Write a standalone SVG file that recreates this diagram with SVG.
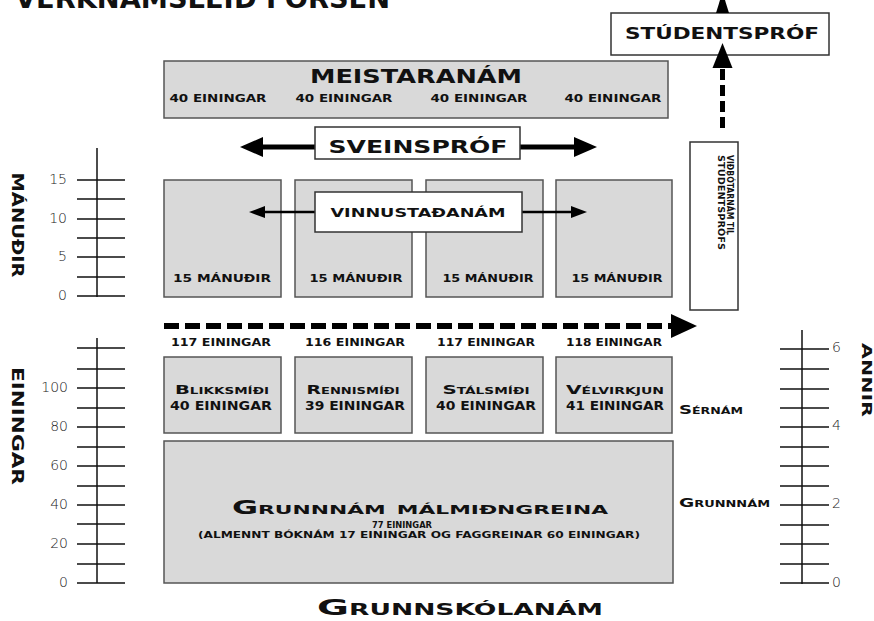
<svg xmlns="http://www.w3.org/2000/svg" width="874" height="621" viewBox="0 0 874 621">
<style>
.b{font-family:"DejaVu Sans","Liberation Sans",sans-serif;font-weight:bold;fill:#111}
.sc{font-variant:small-caps}
.n{font-family:"DejaVu Sans","Liberation Sans",sans-serif;font-weight:200;fill:#222;font-size:14px}
.g{fill:#d9d9d9;stroke:#555;stroke-width:1.5}
.w{fill:#fff;stroke:#333;stroke-width:1.5}
.ax{stroke:#111;stroke-width:1.5;fill:none}
.m{text-anchor:middle}
</style>
<rect width="874" height="621" fill="#fff"/>
<text class="b" x="15" y="8" font-size="26" textLength="375" lengthAdjust="spacingAndGlyphs">VERKNÁMSLEIÐ FORSEN</text>

<g id="studentsprof">
<rect class="w" x="611" y="13" width="218" height="42"/>
<text class="b m" x="722" y="39" font-size="16" textLength="194" lengthAdjust="spacingAndGlyphs">STÚDENTSPRÓF</text>
</g>

<g id="meistaranam">
<rect class="g" x="164" y="61" width="504" height="57"/>
<text class="b m" x="416" y="83" font-size="19" textLength="212" lengthAdjust="spacingAndGlyphs">MEISTARANÁM</text>
<text class="b m" x="218" y="102" font-size="10.5" textLength="97" lengthAdjust="spacingAndGlyphs">40 EININGAR</text>
<text class="b m" x="344" y="102" font-size="10.5" textLength="97" lengthAdjust="spacingAndGlyphs">40 EININGAR</text>
<text class="b m" x="479" y="102" font-size="10.5" textLength="97" lengthAdjust="spacingAndGlyphs">40 EININGAR</text>
<text class="b m" x="613" y="102" font-size="10.5" textLength="97" lengthAdjust="spacingAndGlyphs">40 EININGAR</text>
</g>

<g id="manudir-scale">
<line class="ax" x1="97" y1="148" x2="97" y2="297"/>
<path class="ax" d="M77 180H125M77 199H125M77 219H125M77 238H125M77 257H125M77 277H125M77 296H125"/>
<text class="n" x="67" y="184" text-anchor="end">15</text>
<text class="n" x="67" y="223" text-anchor="end">10</text>
<text class="n" x="67" y="261" text-anchor="end">5</text>
<text class="n" x="67" y="300" text-anchor="end">0</text>
<text class="b m" transform="translate(17,225) rotate(90)" dominant-baseline="central" font-size="15" textLength="105" lengthAdjust="spacingAndGlyphs">MÁNUÐIR</text>
</g>

<g id="manudir-boxes">
<rect class="g" x="164" y="180" width="117" height="117"/>
<rect class="g" x="295" y="180" width="117" height="117"/>
<rect class="g" x="426" y="180" width="117" height="117"/>
<rect class="g" x="556" y="180" width="116" height="117"/>
<text class="b m" x="222" y="282" font-size="11" textLength="98" lengthAdjust="spacingAndGlyphs">15 MÁNUÐIR</text>
<text class="b m" x="356" y="282" font-size="11" textLength="93" lengthAdjust="spacingAndGlyphs">15 MÁNUÐIR</text>
<text class="b m" x="488" y="282" font-size="11" textLength="91" lengthAdjust="spacingAndGlyphs">15 MÁNUÐIR</text>
<text class="b m" x="617" y="282" font-size="11" textLength="91" lengthAdjust="spacingAndGlyphs">15 MÁNUÐIR</text>
</g>

<g id="vidbotarnam">
<rect class="w" x="690" y="142" width="48" height="168"/>
<g transform="translate(736,155) rotate(90)">
<text class="b" x="0" y="9" font-size="9.5" textLength="80" lengthAdjust="spacingAndGlyphs">VIÐBÓTARNÁM TIL</text>
<text class="b" x="0" y="18.5" font-size="9.5" textLength="95" lengthAdjust="spacingAndGlyphs">STÚDENTSPRÓFS</text>
</g>
</g>

<g id="connectors">
<line x1="260" y1="147" x2="580" y2="147" stroke="#000" stroke-width="5"/>
<polygon points="240,147 263,137 263,157" fill="#000"/>
<polygon points="597,147 574,137 574,157" fill="#000"/>
<line x1="262" y1="212" x2="575" y2="212" stroke="#000" stroke-width="2.5"/>
<polygon points="249,212 265,206 265,218" fill="#000"/>
<polygon points="587,212 571,206 571,218" fill="#000"/>
<line x1="164" y1="326" x2="671" y2="326" stroke="#000" stroke-width="6" stroke-dasharray="15 6"/>
<polygon points="697,326 671,314 671,338" fill="#000"/>
<line x1="722.5" y1="128" x2="722.5" y2="66" stroke="#000" stroke-width="5" stroke-dasharray="11 5"/>
<polygon points="722.5,43 712.5,68 732.5,68" fill="#000"/>
<polygon points="722.5,-8 716,13 729,13" fill="#000"/>
</g>

<g id="sveinsprof">
<rect class="w" x="315" y="127" width="205" height="32"/>
<text class="b m" x="418" y="153" font-size="18" textLength="179" lengthAdjust="spacingAndGlyphs">SVEINSPRÓF</text>
</g>

<g id="vinnustadanam">
<rect class="w" x="315" y="192" width="207" height="40"/>
<text class="b m" x="418" y="217" font-size="12.5" textLength="175" lengthAdjust="spacingAndGlyphs">VINNUSTAÐANÁM</text>
</g>

<g id="einingar-totals">
<text class="b m" x="221" y="346" font-size="11" textLength="100" lengthAdjust="spacingAndGlyphs">117 EININGAR</text>
<text class="b m" x="355" y="346" font-size="11" textLength="100" lengthAdjust="spacingAndGlyphs">116 EININGAR</text>
<text class="b m" x="486" y="346" font-size="11" textLength="98" lengthAdjust="spacingAndGlyphs">117 EININGAR</text>
<text class="b m" x="614" y="346" font-size="11" textLength="96" lengthAdjust="spacingAndGlyphs">118 EININGAR</text>
</g>

<g id="blikksmidi">
<rect class="g" x="164" y="357" width="117" height="76"/>
<text class="b sc m" x="222" y="394" font-size="13" textLength="94" lengthAdjust="spacingAndGlyphs">Blikksmíði</text>
<text class="b m" x="221" y="410" font-size="12" textLength="102" lengthAdjust="spacingAndGlyphs">40 EININGAR</text>
</g>
<g id="rennismidi">
<rect class="g" x="295" y="357" width="117" height="76"/>
<text class="b sc m" x="353" y="394" font-size="13" textLength="93" lengthAdjust="spacingAndGlyphs">Rennismíði</text>
<text class="b m" x="355" y="410" font-size="12" textLength="100" lengthAdjust="spacingAndGlyphs">39 EININGAR</text>
</g>
<g id="stalsmidi">
<rect class="g" x="426" y="357" width="117" height="76"/>
<text class="b sc m" x="486" y="394" font-size="13" textLength="87" lengthAdjust="spacingAndGlyphs">Stálsmíði</text>
<text class="b m" x="486" y="410" font-size="12" textLength="100" lengthAdjust="spacingAndGlyphs">40 EININGAR</text>
</g>
<g id="velvirkjun">
<rect class="g" x="556" y="357" width="116" height="76"/>
<text class="b sc m" x="615" y="394" font-size="13" textLength="98" lengthAdjust="spacingAndGlyphs">Vélvirkjun</text>
<text class="b m" x="615" y="410" font-size="12" textLength="98" lengthAdjust="spacingAndGlyphs">41 EININGAR</text>
</g>

<g id="grunnnam">
<rect class="g" x="164" y="441" width="509" height="142"/>
<text class="b sc m" x="420" y="514" font-size="19" textLength="376" lengthAdjust="spacingAndGlyphs">Grunnnám málmiðngreina</text>
<text class="b m" x="402" y="528" font-size="9" textLength="60" lengthAdjust="spacingAndGlyphs">77 EININGAR</text>
<text class="b m" x="419" y="538" font-size="9.5" textLength="442" lengthAdjust="spacingAndGlyphs">(ALMENNT BÓKNÁM 17 EININGAR OG FAGGREINAR 60 EININGAR)</text>
</g>

<g id="einingar-scale">
<line class="ax" x1="97" y1="338" x2="97" y2="583"/>
<path class="ax" d="M77 348H125M77 369H125M77 388H125M77 408H125M77 427H125M77 447H125M77 466H125M77 486H125M77 505H125M77 524H125M77 544H125M77 564H125M77 583H125"/>
<text class="n" x="68" y="392" text-anchor="end">100</text>
<text class="n" x="68" y="431" text-anchor="end">80</text>
<text class="n" x="68" y="470" text-anchor="end">60</text>
<text class="n" x="68" y="509" text-anchor="end">40</text>
<text class="n" x="68" y="548" text-anchor="end">20</text>
<text class="n" x="68" y="587" text-anchor="end">0</text>
<text class="b m" transform="translate(17,426) rotate(90)" dominant-baseline="central" font-size="15" textLength="118" lengthAdjust="spacingAndGlyphs">EININGAR</text>
</g>

<g id="annir-scale">
<line class="ax" x1="802" y1="330" x2="802" y2="584"/>
<path class="ax" d="M780 349H829M780 369H829M780 389H829M780 408H829M780 427H829M780 447H829M780 466H829M780 486H829M780 505H829M780 525H829M780 544H829M780 564H829M780 583H829"/>
<text class="n" x="832" y="352">6</text>
<text class="n" x="832" y="430">4</text>
<text class="n" x="832" y="508">2</text>
<text class="n" x="832" y="587">0</text>
<text class="b m" transform="translate(867,380) rotate(90)" dominant-baseline="central" font-size="14" textLength="74" lengthAdjust="spacingAndGlyphs">ANNIR</text>
</g>

<g id="labels">
<text class="b sc" x="679" y="414" font-size="11.5" textLength="64" lengthAdjust="spacingAndGlyphs">Sérnám</text>
<text class="b sc" x="679" y="507" font-size="11.5" textLength="91" lengthAdjust="spacingAndGlyphs">Grunnnám</text>
<text class="b sc m" x="460" y="615" font-size="22" textLength="286" lengthAdjust="spacingAndGlyphs">Grunnskólanám</text>
</g>
</svg>
